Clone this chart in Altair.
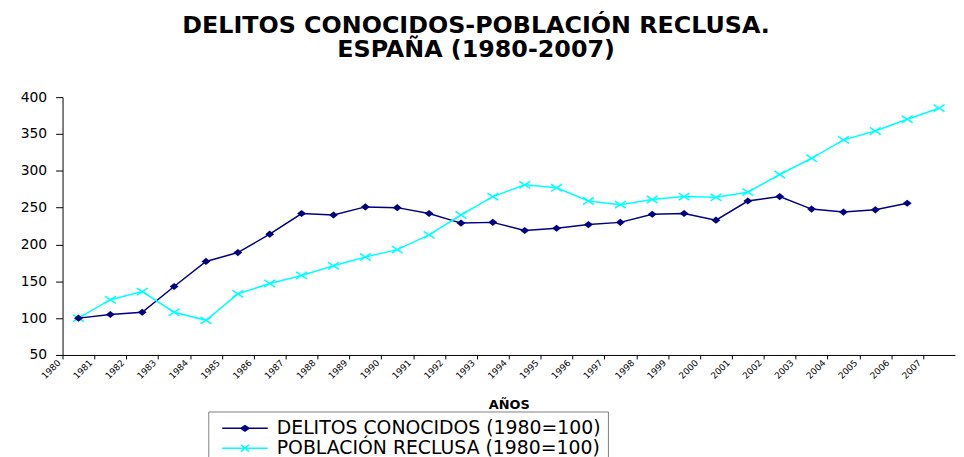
import json
import altair as alt
import pandas as pd

years = list(range(1980, 2008))
tick_labels = [str(y) for y in years]
series = ["DELITOS CONOCIDOS (1980=100)", "POBLACIÓN RECLUSA (1980=100)"]
colors = ["#000080", "#00FFFF"]

# 1980..2006
delitos = [100, 105, 108, 143, 177, 189, 214, 242, 240, 251, 250, 242, 229, 230,
           219, 222, 227, 230, 241, 242, 233, 259, 265, 248, 244, 247, 256]
# 1980..2007
poblacion = [100, 125, 136, 108, 97, 133, 147, 158, 171, 183, 193, 213, 240, 265,
             281, 277, 259, 254, 261, 265, 264, 271, 295, 317, 342, 354, 370, 385]

rows = []
for y, v in zip(years, delitos):
    rows.append({"year": y, "value": v, "serie": series[0]})
for y, v in zip(years, poblacion):
    rows.append({"year": y, "value": v, "serie": series[1]})
df = pd.DataFrame(rows)

FONT = "DejaVu Sans"

diamond_path = "M-1,0L0,-0.8L1,0L0,0.8Z"
xmark_path = "M-1,-0.65L1,0.65M-1,0.65L1,-0.65"
# legend symbols: r = 9px units; line spans 46px, marker in its middle
leg_diamond = "M-0.33,0L4.77,0M2.22,-0.3L2.67,0L2.22,0.3L1.77,0Z"
leg_x = "M-0.33,0L4.77,0M1.77,-0.38L2.67,0.38M1.77,0.38L2.67,-0.38"

x_enc = alt.X(
    "year:Q",
    scale=alt.Scale(domain=[1979.5, 2007.5], nice=False, zero=False),
    axis=alt.Axis(
        values=[y - 0.5 for y in years],
        tickCount=60,
        labelExpr=f"{json.dumps(tick_labels)}[round(datum.value - 1979.5)]",
        labelAngle=315,
        labelAlign="right",
        labelBaseline="middle",
        labelFontSize=9,
        labelFont=FONT,
        labelColor="black",
        labelOffset=-4,
        labelPadding=2,
        labelOverlap=False,
        tickSize=4,
        tickColor="black",
        domainColor="black",
        grid=False,
        title="AÑOS",
        titleFont=FONT,
        titleFontSize=13,
        titleFontWeight="bold",
        titleColor="black",
        titlePadding=18,
    ),
)
y_enc = alt.Y(
    "value:Q",
    scale=alt.Scale(domain=[50, 400], nice=False, zero=False),
    axis=alt.Axis(
        values=list(range(50, 401, 50)),
        tickCount=40,
        labelOverlap=False,
        title=None,
        grid=False,
        tickSize=7,
        tickColor="black",
        domainColor="black",
        labelFont=FONT,
        labelFontSize=14,
        labelColor="black",
        labelPadding=9,
    ),
)

sel0 = f"datum.value === '{series[0]}'"
legend = alt.Legend(
    title=None,
    orient="none",
    legendX=147,
    legendY=317,
    direction="vertical",
    labelFont=FONT,
    labelFontSize=19,
    labelColor="black",
    labelLimit=800,
    labelOffset=42,
    symbolSize=324,
    symbolStrokeWidth=1.5,
    symbolType={"expr": f"{sel0} ? '{leg_diamond}' : '{leg_x}'"},
    symbolFillColor={"expr": f"{sel0} ? '{colors[0]}' : 'transparent'"},
    symbolStrokeColor={"expr": f"{sel0} ? '{colors[0]}' : '{colors[1]}'"},
    strokeColor="#808080",
    fillColor="white",
    padding=7,
    rowPadding=0,
)

base = alt.Chart(df)

lines = base.mark_line(strokeWidth=1.5).encode(
    x=x_enc,
    y=y_enc,
    color=alt.Color("serie:N", scale=alt.Scale(domain=series, range=colors), legend=legend),
)

pts_d = base.transform_filter(f"datum.serie === '{series[0]}'").mark_point(
    shape=diamond_path, filled=True, size=81, color=colors[0], opacity=1
).encode(x="year:Q", y="value:Q")

pts_p = base.transform_filter(f"datum.serie === '{series[1]}'").mark_point(
    shape=xmark_path, filled=False, size=121, color=colors[1], strokeWidth=1.5, opacity=1
).encode(x="year:Q", y="value:Q")

chart = (
    alt.layer(lines, pts_p, pts_d)
    .properties(
        width=900,
        height=260,
        autosize=alt.AutoSizeParams(type="none"),
        padding={"left": 55, "top": 88, "right": 1, "bottom": 101},
        background="white",
        title=alt.TitleParams(
            ["DELITOS CONOCIDOS-POBLACIÓN RECLUSA.", "ESPAÑA (1980-2007)"],
            font=FONT,
            fontSize=24,
            fontWeight="bold",
            color="black",
            anchor="middle",
            dx=-33,
            offset=28,
            lineHeight=25,
        ),
    )
    .configure_view(stroke=None)
)

chart.save("out.html", embed_options={"renderer": "svg", "actions": False})
